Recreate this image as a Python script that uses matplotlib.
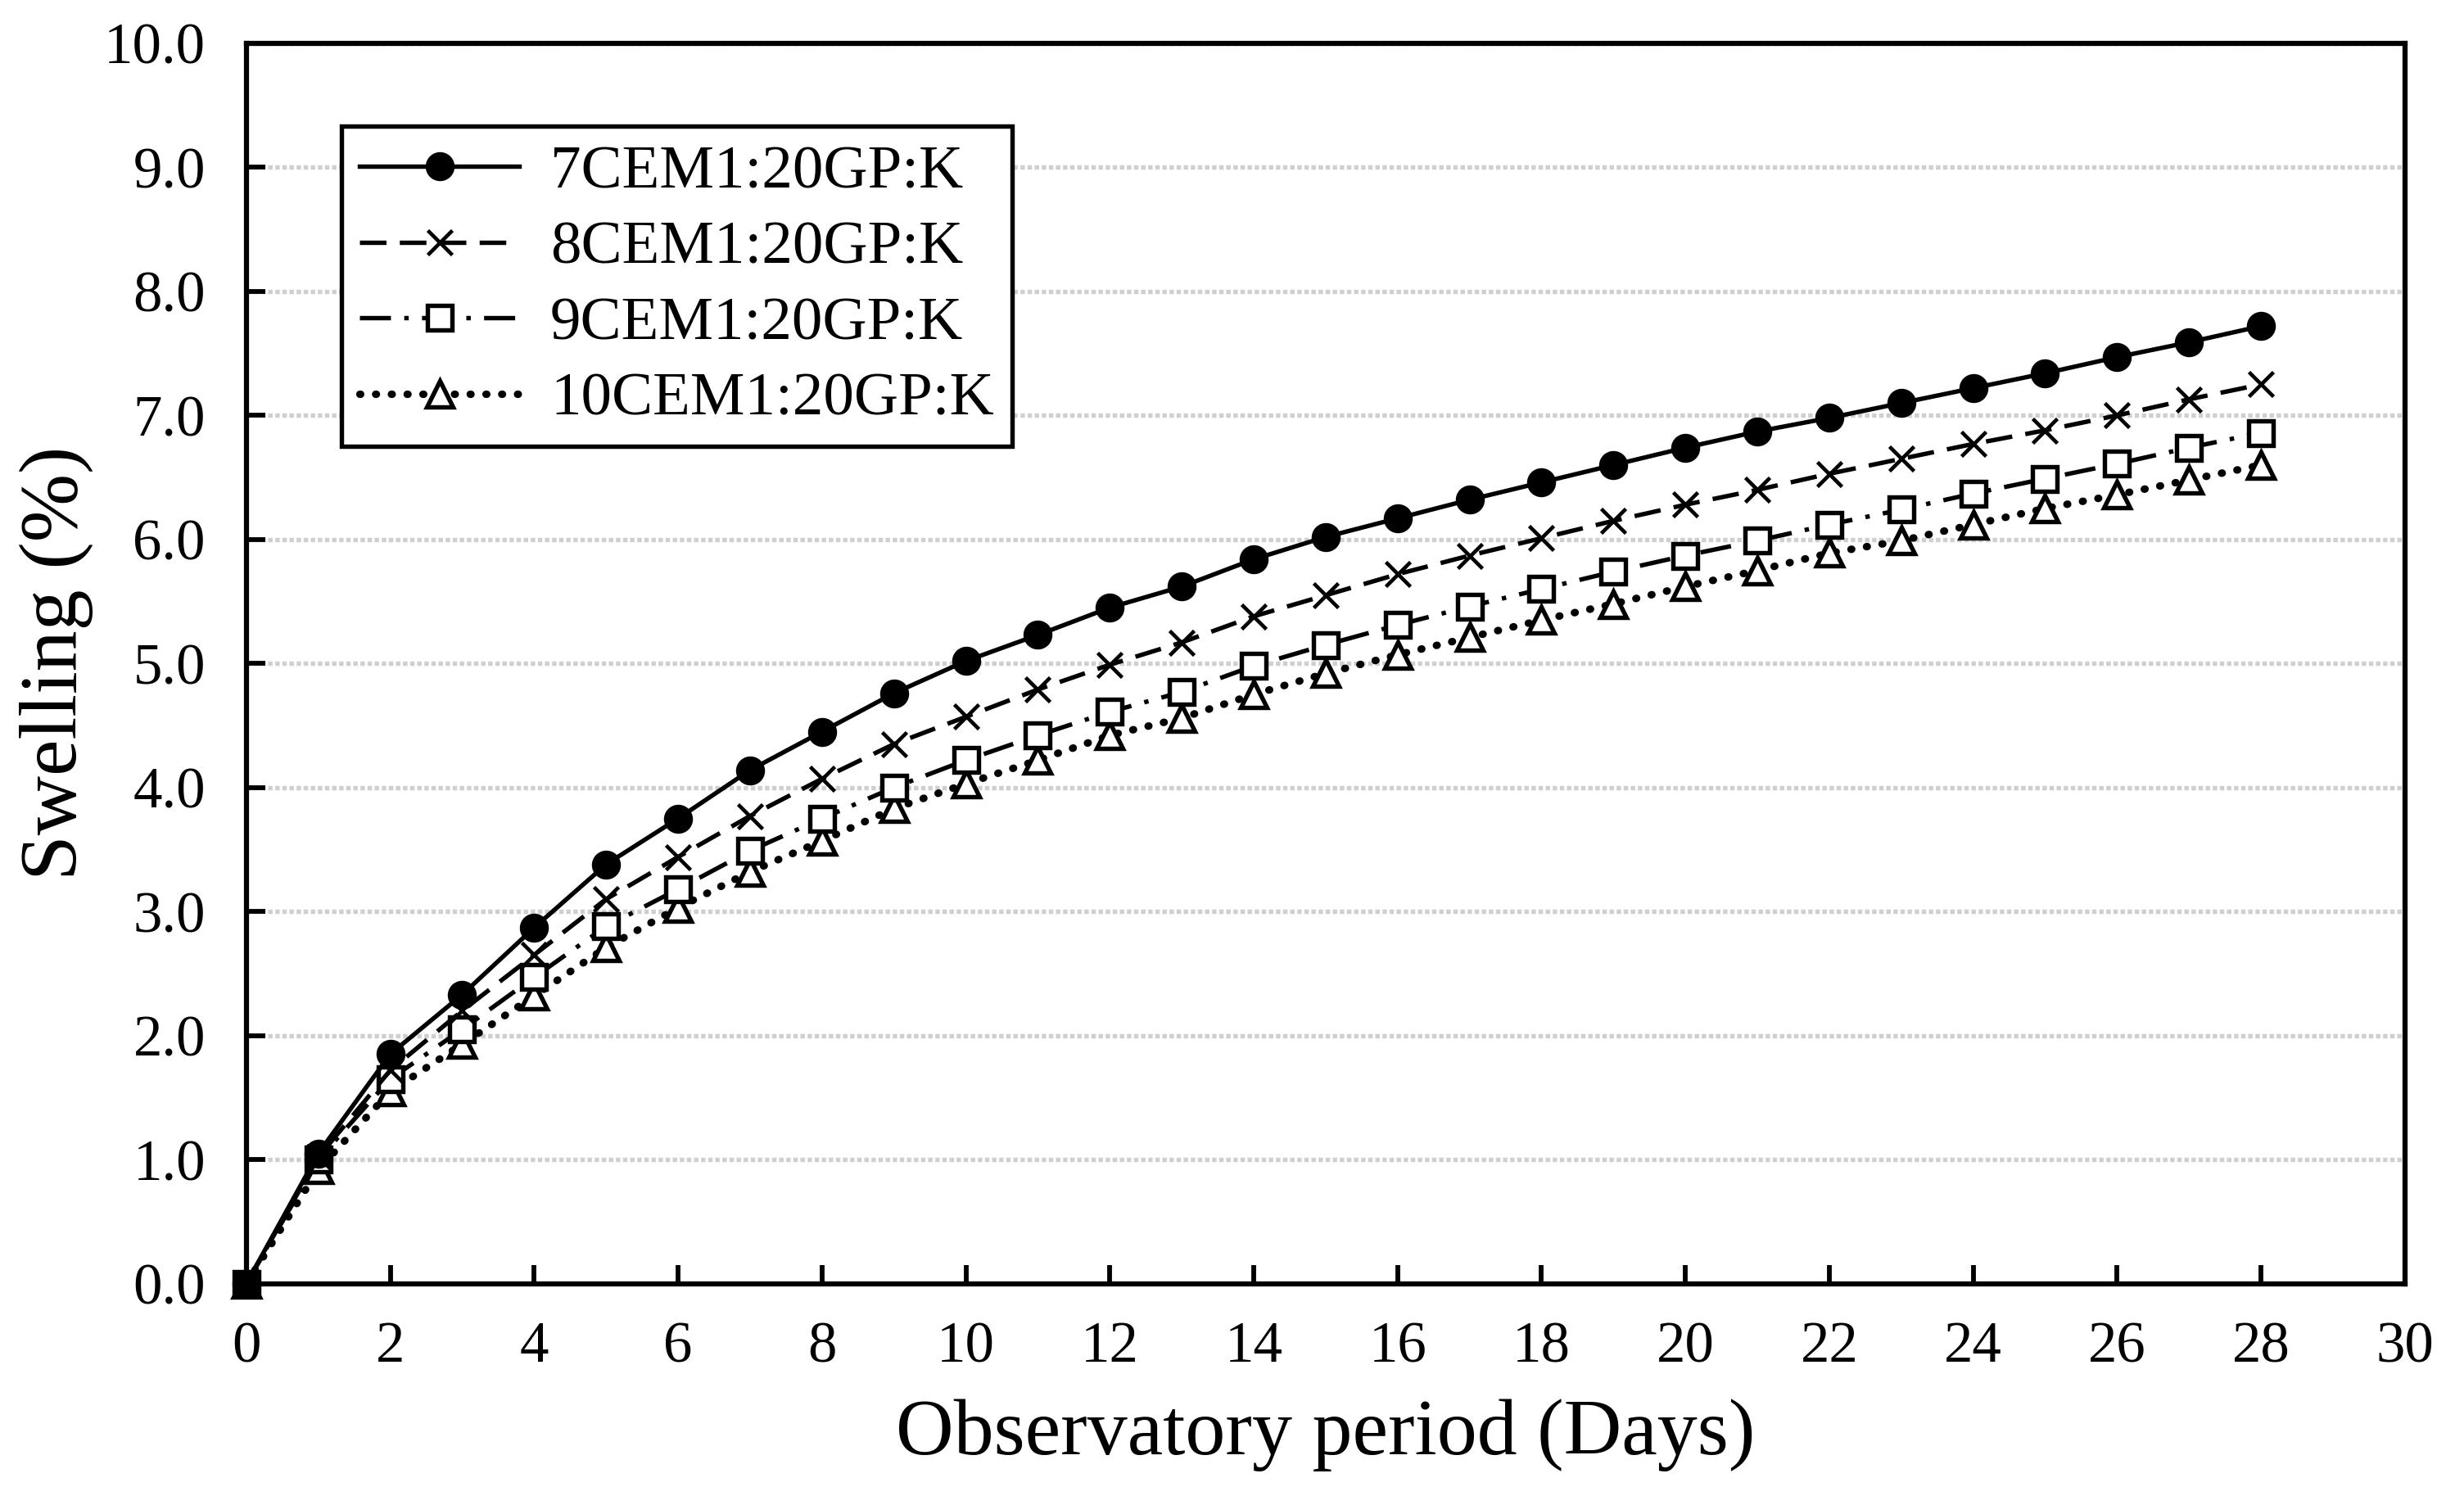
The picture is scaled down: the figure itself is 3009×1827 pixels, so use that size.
import matplotlib
matplotlib.use("Agg")
import matplotlib.pyplot as plt

plt.rcParams['font.family'] = ['Liberation Serif', 'DejaVu Serif']

days = list(range(0, 29))

cem7 = [0.0, 1.05, 1.85, 2.33, 2.87, 3.38, 3.75, 4.14, 4.45, 4.76, 5.02, 5.23, 5.45, 5.62, 5.84,
        6.02, 6.17, 6.32, 6.46, 6.60, 6.74, 6.87, 6.98, 7.10, 7.22, 7.34, 7.47, 7.59, 7.72]
cem8 = [0.0, 1.02, 1.72, 2.20, 2.65, 3.10, 3.44, 3.77, 4.07, 4.35, 4.57, 4.79, 4.99, 5.17, 5.38,
        5.55, 5.72, 5.87, 6.01, 6.15, 6.28, 6.40, 6.53, 6.65, 6.77, 6.88, 7.00, 7.13, 7.25]
cem9 = [0.0, 1.00, 1.65, 2.05, 2.47, 2.88, 3.18, 3.49, 3.75, 4.00, 4.22, 4.42, 4.61, 4.77, 4.98,
        5.15, 5.31, 5.46, 5.60, 5.74, 5.87, 5.99, 6.12, 6.24, 6.37, 6.49, 6.61, 6.74, 6.86]
cem10 = [0.0, 0.92, 1.55, 1.93, 2.32, 2.71, 3.03, 3.32, 3.57, 3.83, 4.03, 4.22, 4.42, 4.56, 4.75,
         4.92, 5.07, 5.21, 5.35, 5.48, 5.62, 5.75, 5.89, 5.99, 6.12, 6.25, 6.36, 6.48, 6.60]

labels = ["7CEM1:20GP:K", "8CEM1:20GP:K", "9CEM1:20GP:K", "10CEM1:20GP:K"]

fig = plt.figure(figsize=(10.03, 6.09), dpi=300)
ax = fig.add_axes([0.100, 0.142, 0.876, 0.829])

ax.plot(days, cem7, color='black', lw=1.3, linestyle='-', marker='o', ms=7.5,
        mfc='black', mec='black', label=labels[0], clip_on=False, zorder=5)
ax.plot(days, cem8, color='black', lw=1.3, linestyle=(0, (6, 3)), marker='x', ms=7,
        mew=1.1, label=labels[1], clip_on=False, zorder=4)
ax.plot(days, cem9, color='black', lw=1.3, linestyle=(0, (7, 3, 1, 3)), marker='s', ms=7,
        mfc='white', mec='black', mew=1.3, label=labels[2], clip_on=False, zorder=3)
ax.plot(days, cem10, color='black', lw=2.2, linestyle=(0, (0.1, 2.0)), dash_capstyle='round',
        marker='^', ms=7.5, mfc='white', mec='black', mew=1.3, label=labels[3],
        clip_on=False, zorder=2)

ax.set_xlim(0, 30)
ax.set_ylim(0, 10)
ax.set_xticks(range(0, 31, 2))
ax.set_yticks(range(0, 11))
ax.set_yticklabels([f"{v:.1f}" for v in range(0, 11)])

ax.yaxis.grid(True, color='#cfcfcf', lw=1.3, linestyle=(0, (1, 0.6)))
ax.set_axisbelow(True)

for s in ax.spines.values():
    s.set_linewidth(1.5)
ax.tick_params(direction='in', length=5.5, width=1.4, labelsize=17)
ax.tick_params(axis='x', pad=11)
ax.tick_params(axis='y', pad=12)

ax.set_xlabel("Observatory period (Days)", fontsize=23.5, labelpad=7)
ax.set_ylabel("Swelling (%)", fontsize=24, labelpad=3)

leg = ax.legend(loc='upper left', bbox_to_anchor=(0.044, 0.933), fontsize=18,
                handlelength=2.6, labelspacing=0.32, borderpad=0.3, handletextpad=0.5,
                fancybox=False, framealpha=1, edgecolor='black', borderaxespad=0)
leg.get_frame().set_linewidth(1.3)

fig.savefig("out.png", dpi=300)
